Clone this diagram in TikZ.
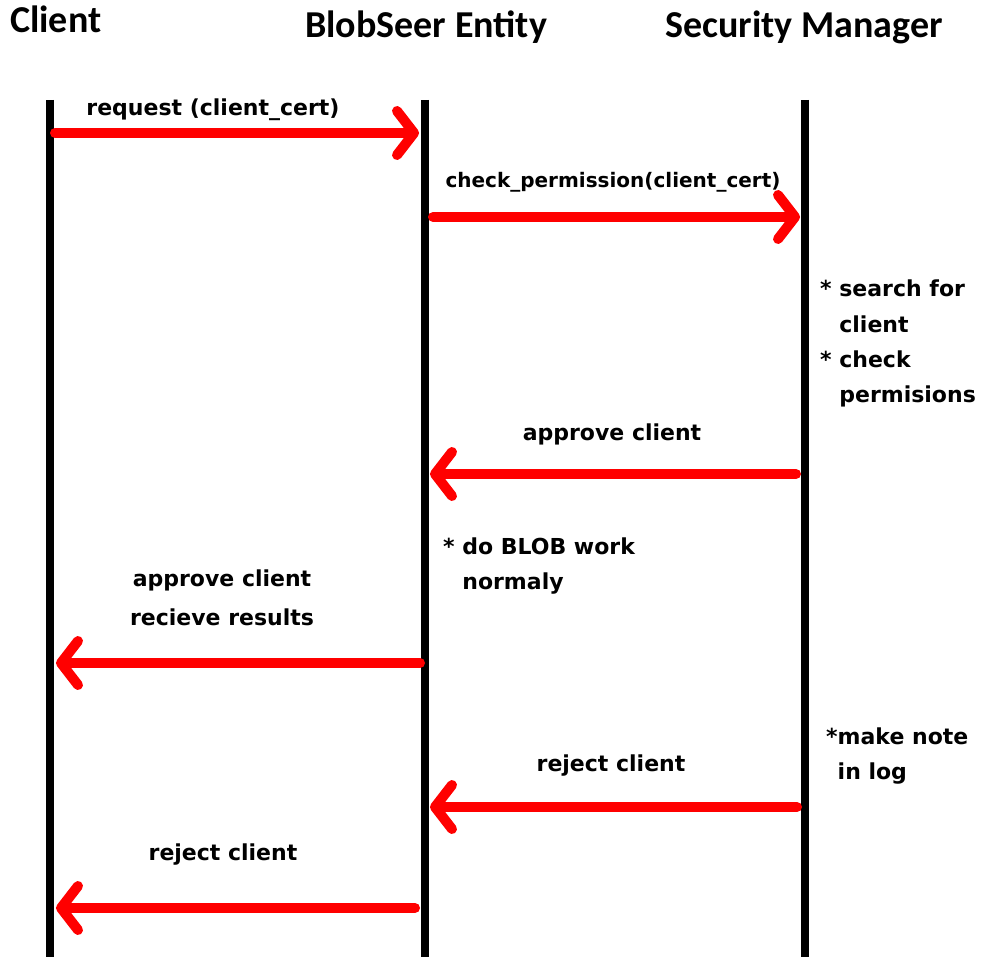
\documentclass[tikz,border=0pt]{standalone}
\usepackage{fontspec}
\setmainfont{DejaVu Sans}
\newfontfamily\headfont{Carlito}
\usetikzlibrary{arrows.meta}

\definecolor{msgred}{RGB}{255,0,0}

\tikzset{
    lifeline/.style={line width=8pt, black},
    msg/.style={line width=10pt, msgred, line cap=round,
        -{Straight Barb[length=17pt,width=44pt,round]}},
    head/.style={font=\headfont\bfseries\fontsize{38}{40}\selectfont, inner sep=0pt, anchor=base west},
    lbl/.style={font=\bfseries\fontsize{22}{39}\selectfont, inner sep=0pt, anchor=base, align=center},
    note/.style={font=\bfseries\fontsize{22}{35}\selectfont, inner sep=0pt, anchor=base west, align=left},
}

\begin{document}
\begin{tikzpicture}[x=1pt,y=-1pt]
        \useasboundingbox (0,0) rectangle (982,957);

        % headers
        \node[head] (client) at (10,33) {Client};
        \node[head] (blob) at (305,38) {BlobSeer Entity};
        \node[head] (secmgr) at (665,38) {Security Manager};

        % lifelines
        \coordinate (clTop) at (50,100);   \coordinate (clBot) at (50,957);
        \coordinate (blTop) at (425,100);  \coordinate (blBot) at (425,957);
        \coordinate (smTop) at (805,100);  \coordinate (smBot) at (805,957);
        \draw[lifeline] (clTop) -- (clBot);
        \draw[lifeline] (blTop) -- (blBot);
        \draw[lifeline] (smTop) -- (smBot);

        % message end points
        \coordinate (reqA) at (55,133);   \coordinate (reqB) at (419,133);
        \coordinate (chkA) at (433,217);  \coordinate (chkB) at (800,217);
        \coordinate (apvA) at (796,474);  \coordinate (apvB) at (430,474);
        \coordinate (resA) at (420,663);  \coordinate (resB) at (56,663);
        \coordinate (rejA) at (797,807);  \coordinate (rejB) at (430,807);
        \coordinate (rcA) at (415,908);   \coordinate (rcB) at (56,908);

        % messages (multi-line nodes sit on their last line)
        \draw[msg] (reqA) -- (reqB);
        \node[lbl] (req) at (213,116) {request (client\_cert)};

        \draw[msg] (chkA) -- (chkB);
        \node[lbl,font=\bfseries\fontsize{20}{24}\selectfont] (chk) at (613,188) {check\_permission(client\_cert)};

        \draw[msg] (apvA) -- (apvB);
        \node[lbl] (apv) at (612,440) {approve client};

        \draw[msg] (resA) -- (resB);
        \node[lbl] (res) at (222,625) {approve client\\recieve results};

        \draw[msg] (rejA) -- (rejB);
        \node[lbl] (rej) at (611,771) {reject client};

        \draw[msg] (rcA) -- (rcB);
        \node[lbl] (rc) at (223,860) {reject client};

        % notes
        \node[note] (search) at (820,402) {*\ search for\\\hphantom{*\ }client\\*\ check\\\hphantom{*\ }permisions};
        \node[note] (work) at (443,589) {*\ do BLOB work\\\hphantom{*\ }normaly};
        \node[note] (log) at (826,779) {*make note\\\hphantom{*}in log};
\end{tikzpicture}
\end{document}
